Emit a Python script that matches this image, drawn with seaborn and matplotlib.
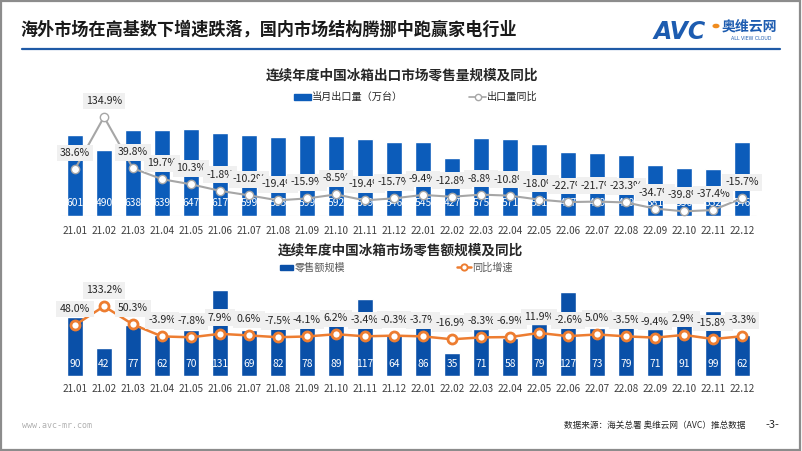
import numpy as np
import pandas as pd
import matplotlib
matplotlib.use("Agg")
import matplotlib.pyplot as plt
import seaborn as sns
from matplotlib.patches import Rectangle
from matplotlib.lines import Line2D

# ---- data ----
months = ["21.01", "21.02", "21.03", "21.04", "21.05", "21.06", "21.07", "21.08",
          "21.09", "21.10", "21.11", "21.12", "22.01", "22.02", "22.03", "22.04",
          "22.05", "22.06", "22.07", "22.08", "22.09", "22.10", "22.11", "22.12"]
export_volume = [601, 490, 638, 639, 647, 617, 599, 585, 599, 592, 569, 546,
                 545, 427, 575, 571, 531, 477, 469, 449, 381, 356, 352, 546]
export_yoy = [38.6, 134.9, 39.8, 19.7, 10.3, -1.8, -10.2, -19.4, -15.9, -8.5, -19.4, -15.7,
              -9.4, -12.8, -8.8, -10.8, -18.0, -22.7, -21.7, -23.3, -34.7, -39.8, -37.4, -15.7]
retail_value = [90, 42, 77, 62, 70, 131, 69, 82, 78, 89, 117, 64,
                86, 35, 71, 58, 79, 127, 73, 79, 71, 91, 99, 62]
retail_yoy = [48.0, 133.2, 50.3, -3.9, -7.8, 7.9, 0.6, -7.5, -4.1, 6.2, -3.4, -0.3,
              -3.7, -16.9, -8.3, -6.9, 11.9, -2.6, 5.0, -3.5, -9.4, 2.9, -15.8, -3.3]

W, H = 802, 451
BLUE = "#0c5cba"
BLUE2 = "#0a50a8"
GRAY_LINE = "#a6a6a6"
ORANGE = "#ed7d31"
TXT = "#404040"

sns.set_theme(style="white")
plt.rcParams["font.family"] = ["Noto Sans CJK SC", "DejaVu Sans"]


def px_box(l, t, r, b):
    # pixel box (from top-left) -> figure fraction rect
    return [l / W, 1 - b / H, (r - l) / W, (b - t) / H]


def fx(x):
    return x / W


def fy(y):
    return 1 - y / H


def draw_panel(fig, rect, vals, pcts, ylim, ylim2, bar_color, line_color,
               face, mew, msize, lw, tick_pad, bar_lab_off, baseline):
    df = pd.DataFrame({"month": months, "val": vals, "pct": pcts})
    ax = fig.add_axes(rect)
    sns.barplot(data=df, x="month", y="val", color=bar_color, saturation=1,
                width=0.52, ax=ax, zorder=2)
    ax.set_xlim(-0.6, len(months) - 0.4)
    ax.set_ylim(*ylim)
    ax.set_xlabel("")
    ax.set_ylabel("")
    ax.set_yticks([])
    ax.tick_params(axis="x", length=0, pad=tick_pad, labelsize=7.2, labelcolor=TXT)
    for s in ax.spines.values():
        s.set_visible(False)
    if baseline:
        ax.axhline(0, color="#d9d9d9", lw=0.8, xmin=0.005, xmax=0.995, zorder=1)
    ax.patch.set_alpha(0)
    for i, v in enumerate(vals):
        ax.annotate(str(v), (i, 0), xytext=(0, bar_lab_off), textcoords="offset pixels",
                    ha="center", va="center", color="white", fontsize=7.4, zorder=3)

    ax2 = ax.twinx()
    sns.lineplot(x=np.arange(len(months)), y=pcts, ax=ax2, color=line_color, lw=lw,
                 marker="o", markersize=msize, markerfacecolor="white",
                 markeredgecolor=face, markeredgewidth=mew, clip_on=False, zorder=2)
    ax2.set_ylim(*ylim2)
    ax2.set_yticks([])
    ax2.set_ylabel("")
    for s in ax2.spines.values():
        s.set_visible(False)
    for i, p in enumerate(pcts):
        ax2.annotate(f"{p:.1f}%", (i, p), xytext=(0, 16), textcoords="offset pixels",
                     ha="center", va="center", fontsize=7.6, color="#262626",
                     bbox=dict(boxstyle="square,pad=0.32", fc="#f0f0f0", ec="none"),
                     zorder=4, annotation_clip=False)
    return ax, ax2


fig = plt.figure(figsize=(W / 100, H / 100), dpi=100)

# frame around the slide
fig.patches.append(Rectangle((0.001, 0.002), 0.997, 0.996, transform=fig.transFigure,
                             fill=False, ec="#8c8c8c", lw=1.6))

# header
fig.text(fx(20), fy(30), "海外市场在高基数下增速跌落，国内市场结构腾挪中跑赢家电行业",
         fontsize=12.3, fontweight="bold", color="#1a1a1a", va="center", ha="left")
fig.lines.append(Line2D([fx(22), fx(780)], [fy(48.5), fy(48.5)], transform=fig.transFigure,
                        color="#1f5aa6", lw=1.6))
fig.text(fx(654), fy(32), "AVC", fontsize=17, fontweight="bold", fontstyle="italic",
         color="#1d5cb0", va="center", ha="left", family=["DejaVu Sans"])
fig.patches.append(plt.Circle((fx(716), fy(26)), 0.0035, transform=fig.transFigure,
                              color="#f08c1e"))
fig.text(fx(722), fy(27), "奥维云网", fontsize=10, fontweight="bold", color="#1d5cb0",
         va="center", ha="left")
fig.text(fx(751), fy(38.5), "ALL VIEW CLOUD", fontsize=3.4, color="#1d5cb0",
         va="center", ha="center", family=["DejaVu Sans"])

# ---- top panel: export volume ----
fig.text(fx(402), fy(75), "连续年度中国冰箱出口市场零售量规模及同比", fontsize=9.8,
         fontweight="bold", color="#262626", ha="center", va="center")
fig.patches.append(Rectangle((fx(294), fy(100)), (311 - 294) / W, 6 / H,
                             transform=fig.transFigure, color=BLUE))
fig.text(fx(312), fy(97), "当月出口量（万台）", fontsize=7.3, color="#262626", va="center")
fig.lines.append(Line2D([fx(469), fx(486)], [fy(97), fy(97)], transform=fig.transFigure,
                        color=GRAY_LINE, lw=1.2, marker="o", markevery=[0],
                        markersize=0))
fig.lines.append(Line2D([fx(477.5)], [fy(97)], transform=fig.transFigure, color=GRAY_LINE,
                        marker="o", markersize=4.5, markerfacecolor="white",
                        markeredgecolor=GRAY_LINE, markeredgewidth=1))
fig.text(fx(487), fy(97), "出口量同比", fontsize=7.3, color="#262626", va="center")

draw_panel(fig, px_box(57.6, 122, 759.4, 216), export_volume, export_yoy,
           ylim=(0, 697), ylim2=(-48.4, 125.6), bar_color=BLUE, line_color=GRAY_LINE,
           face=GRAY_LINE, mew=1.0, msize=6, lw=1.5, tick_pad=7.5, bar_lab_off=13,
           baseline=True)

# ---- bottom panel: retail value ----
fig.text(fx(400), fy(250), "连续年度中国冰箱市场零售额规模及同比", fontsize=9.8,
         fontweight="bold", color="#262626", ha="center", va="center")
fig.patches.append(Rectangle((fx(280), fy(270)), (293 - 280) / W, 5 / H,
                             transform=fig.transFigure, color=BLUE2))
fig.text(fx(295), fy(268), "零售额规模", fontsize=7.3, color="#595959", va="center")
fig.lines.append(Line2D([fx(457), fx(471)], [fy(267), fy(267)], transform=fig.transFigure,
                        color=ORANGE, lw=1.8))
fig.lines.append(Line2D([fx(464)], [fy(267)], transform=fig.transFigure, color=ORANGE,
                        marker="o", markersize=4.5, markerfacecolor="white",
                        markeredgecolor=ORANGE, markeredgewidth=1.4))
fig.text(fx(472), fy(268), "同比增速", fontsize=7.3, color="#595959", va="center")

draw_panel(fig, px_box(57.6, 277, 759.4, 376), retail_value, retail_yoy,
           ylim=(0, 150), ylim2=(-183.8, 266.2), bar_color=BLUE2, line_color=ORANGE,
           face=ORANGE, mew=2.0, msize=6.5, lw=1.8, tick_pad=5.8, bar_lab_off=12,
           baseline=False)

# footer
fig.text(fx(22), fy(426), "www.avc-mr.com", fontsize=6, color="#b0b0b0", va="center",
         family=["DejaVu Sans Mono"])
fig.text(fx(745), fy(425), "数据来源：海关总署 奥维云网（AVC）推总数据", fontsize=6.2,
         color="#262626", va="center", ha="right")
fig.text(fx(772), fy(425), "-3-", fontsize=8, color="#262626", va="center", ha="center")

fig.savefig("out.png", dpi=100)
